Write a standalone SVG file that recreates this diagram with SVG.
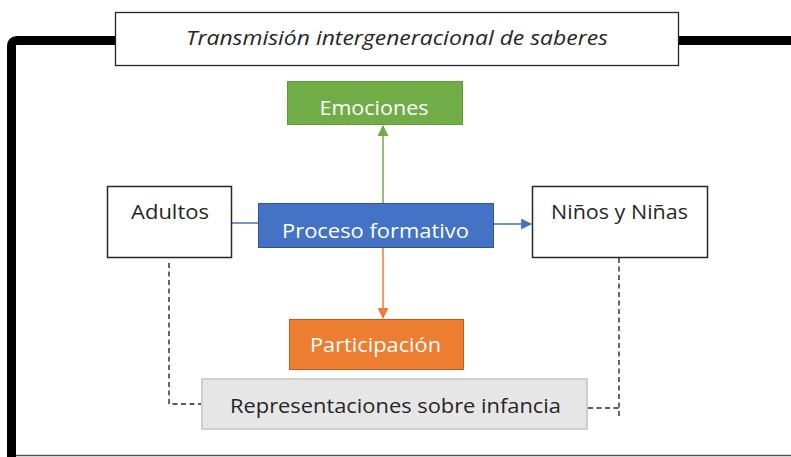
<svg xmlns="http://www.w3.org/2000/svg" width="791" height="457" viewBox="0 0 791 457">
<style>
text{font-family:"Open Sans","Noto Sans","DejaVu Sans",sans-serif;font-size:20px;text-anchor:middle}
.dark{fill:#262626}
.white{fill:#ffffff}
.box{fill:#ffffff;stroke:#262626;stroke-width:1.5}
.dash{fill:none;stroke:#262626;stroke-width:1.4;stroke-dasharray:5 3.5}
</style>
<defs>
<marker id="aBlue" viewBox="0 0 10 10" refX="9" refY="5" markerWidth="11" markerHeight="11" markerUnits="userSpaceOnUse" orient="auto"><path d="M0,0 L10,5 L0,10 Z" fill="#4472C4"/></marker>
<marker id="aGreen" viewBox="0 0 10 10" refX="9" refY="5" markerWidth="11" markerHeight="11" markerUnits="userSpaceOnUse" orient="auto"><path d="M0,0 L10,5 L0,10 Z" fill="#70AD47"/></marker>
<marker id="aOrange" viewBox="0 0 10 10" refX="9" refY="5" markerWidth="11" markerHeight="11" markerUnits="userSpaceOnUse" orient="auto"><path d="M0,0 L10,5 L0,10 Z" fill="#ED7D31"/></marker>
</defs>
<rect width="791" height="457" fill="#ffffff"/>
<g id="frame">
<path d="M11.5 457 V46 Q11.5 40.5 17 40.5 H116" fill="none" stroke="#000" stroke-width="9"/>
<path d="M679 40.5 H791" fill="none" stroke="#000" stroke-width="9"/>
<line x1="16" y1="455.5" x2="791" y2="455.5" stroke="#555" stroke-width="1.5"/>
</g>
<g id="connectors">
<line x1="232" y1="223" x2="258" y2="223" stroke="#4472C4" stroke-width="1.5"/>
<line x1="494" y1="224" x2="531" y2="224" stroke="#4472C4" stroke-width="1.5" marker-end="url(#aBlue)"/>
<line x1="383" y1="203" x2="383" y2="126" stroke="#70AD47" stroke-width="1.5" marker-end="url(#aGreen)"/>
<line x1="383" y1="248" x2="383" y2="318" stroke="#ED7D31" stroke-width="1.5" marker-end="url(#aOrange)"/>
<path class="dash" d="M169 263 V404 H201"/>
<path class="dash" d="M619 258 V417 M588 408 H619"/>
</g>
<g id="title">
<rect x="115.5" y="12.5" width="563" height="53" fill="#ffffff" stroke="#262626" stroke-width="1.3"/>
<text x="397" y="45" class="dark" font-style="italic" textLength="422" lengthAdjust="spacingAndGlyphs">Transmisión intergeneracional de saberes</text>
</g>
<g id="emociones">
<rect x="287.5" y="81.5" width="175" height="43" fill="#70AD47" stroke="#5E9A3A" stroke-width="1"/>
<text x="374" y="115" class="white" textLength="109" lengthAdjust="spacingAndGlyphs">Emociones</text>
</g>
<g id="adultos">
<rect x="107.5" y="186.5" width="124" height="71" class="box"/>
<text x="170" y="219" class="dark" textLength="78" lengthAdjust="spacingAndGlyphs">Adultos</text>
</g>
<g id="proceso">
<rect x="258.5" y="203.5" width="235" height="44" fill="#4472C4" stroke="#2F5597" stroke-width="1"/>
<text x="375.5" y="238" class="white" textLength="187" lengthAdjust="spacingAndGlyphs">Proceso formativo</text>
</g>
<g id="ninos">
<rect x="532.5" y="186.5" width="175" height="71" class="box"/>
<text x="619.5" y="219" class="dark" textLength="137" lengthAdjust="spacingAndGlyphs">Niños y Niñas</text>
</g>
<g id="participacion">
<rect x="289.5" y="319.5" width="174" height="50" fill="#ED7D31" stroke="#C55A11" stroke-width="1"/>
<text x="375.5" y="352" class="white" textLength="131" lengthAdjust="spacingAndGlyphs">Participación</text>
</g>
<g id="representaciones">
<rect x="202" y="379" width="385" height="50" fill="#E7E6E6" stroke="#D0CECE" stroke-width="2"/>
<text x="395.5" y="413" class="dark" textLength="331" lengthAdjust="spacingAndGlyphs">Representaciones sobre infancia</text>
</g>
</svg>
